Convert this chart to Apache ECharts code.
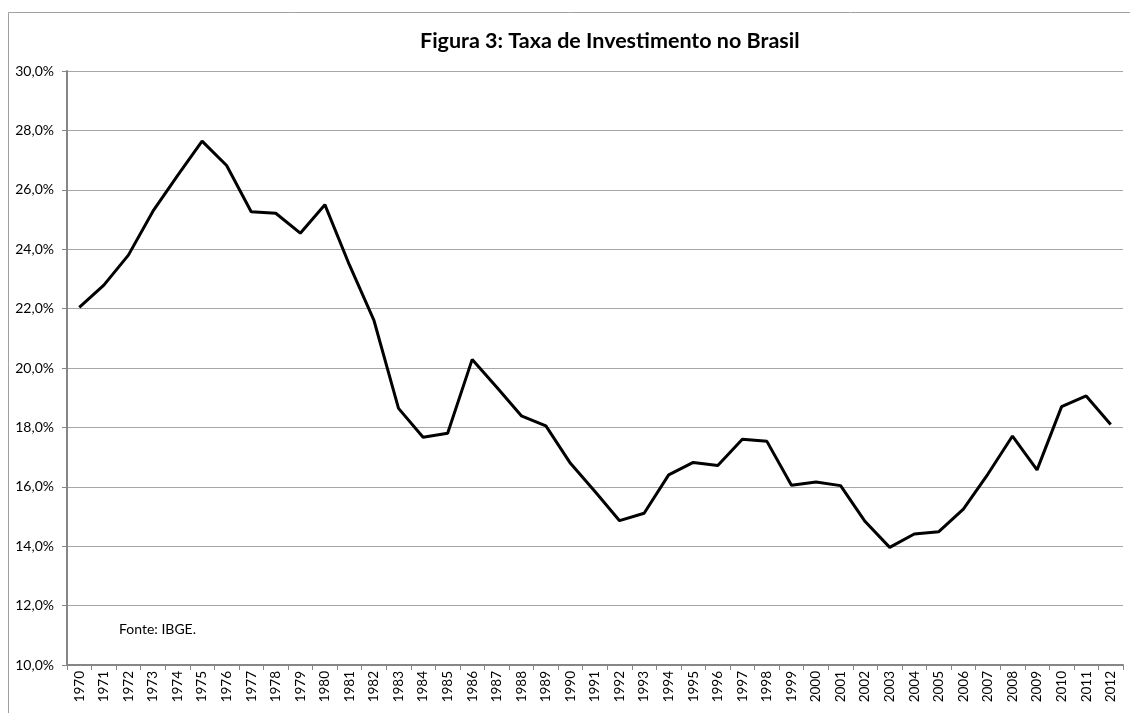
<!DOCTYPE html>
<html><head><meta charset="utf-8">
<script src="https://cdn.jsdelivr.net/npm/echarts@6/dist/echarts.min.js"></script>
<style>html,body{margin:0;padding:0;background:#fff}#c{width:1130px;height:713px}</style>
</head><body><div id="c"></div>
<script>
const years = ['1970','1971','1972','1973','1974','1975','1976','1977','1978','1979','1980','1981','1982','1983','1984','1985','1986','1987','1988','1989','1990','1991','1992','1993','1994','1995','1996','1997','1998','1999','2000','2001','2002','2003','2004','2005','2006','2007','2008','2009','2010','2011','2012'];
const taxa = [22.04,22.79,23.80,25.28,26.48,27.64,26.82,25.26,25.21,24.54,25.50,23.47,21.60,18.64,17.67,17.80,20.29,19.35,18.39,18.05,16.79,15.84,14.86,15.11,16.40,16.82,16.72,17.60,17.53,16.05,16.16,16.04,14.83,13.96,14.41,14.49,15.25,16.43,17.71,16.57,18.70,19.06,18.10];
const titleText = 'Figura 3: Taxa de Investimento no Brasil';
const sourceText = 'Fonte: IBGE.';
const chart = echarts.init(document.getElementById('c'));
const fontFam = 'Lato, "Liberation Sans", sans-serif';
chart.setOption({
  animation:false,
  title:{text:titleText,left:415,top:25,textStyle:{fontFamily:fontFam,fontSize:21.5,fontWeight:'bold',color:'#000'}},
  graphic:[
    {type:'rect',shape:{x:8.5,y:12.5,width:1200,height:800},style:{fill:'none',stroke:'#a0a0a0',lineWidth:1},silent:true},
    {type:'text',left:119,top:622,style:{text:sourceText,fontFamily:fontFam,fontSize:14,fill:'#000'}}
  ],
  grid:{left:67,right:7,top:71,bottom:48},
  xAxis:{type:'category',data:years,boundaryGap:true,
    axisLine:{lineStyle:{color:'#868686',width:2}},
    axisTick:{show:true,length:5,inside:false,lineStyle:{color:'#868686'}},
    axisLabel:{rotate:90,interval:0,fontFamily:fontFam,fontSize:13.5,color:'#000',margin:6}},
  yAxis:{type:'value',min:10,max:30,interval:2,
    axisLine:{show:true,lineStyle:{color:'#868686',width:2}},
    axisTick:{show:true,length:5,lineStyle:{color:'#868686'}},
    splitLine:{lineStyle:{color:'#a6a6a6',width:1}},
    axisLabel:{fontFamily:fontFam,fontSize:14,color:'#000',margin:13,formatter:v=>v.toFixed(1).replace('.',',')+'%'}},
  series:[{type:'line',data:taxa,symbol:'none',lineStyle:{color:'#000',width:3},z:5}]
});
</script></body></html>
